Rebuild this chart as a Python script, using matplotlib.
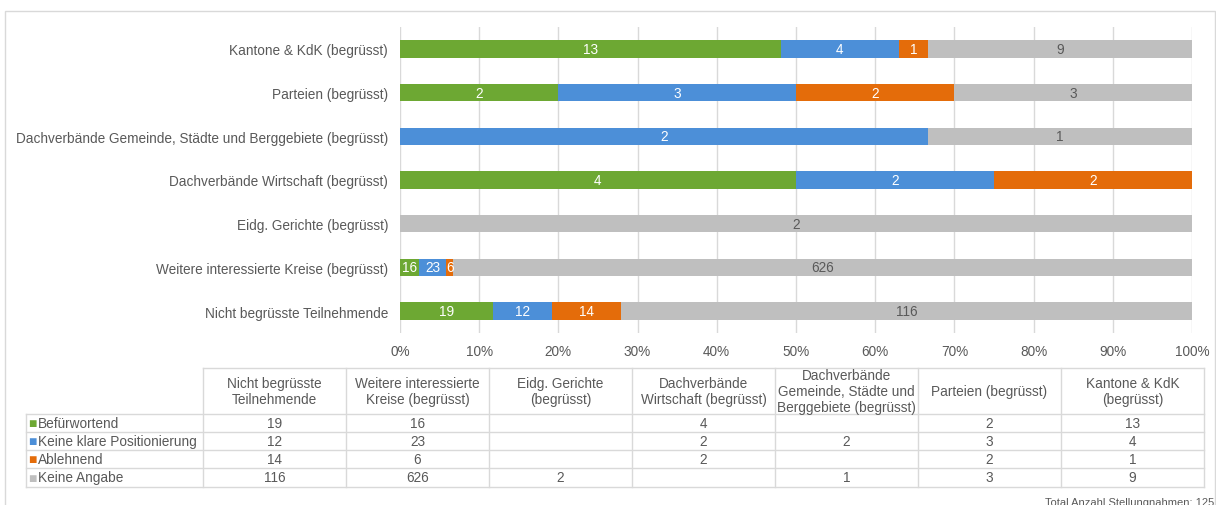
"""Stellungnahmen nach Teilnehmergruppe: 100%-Balken mit Datentabelle."""

import matplotlib.pyplot as plt
from matplotlib.patches import Rectangle
from matplotlib.lines import Line2D
import numpy as np

plt.rcParams["font.family"] = ["Liberation Sans", "DejaVu Sans"]

# order: bottom bar first (= table column order)
groups = [
    "Nicht begrüsste Teilnehmende",
    "Weitere interessierte Kreise (begrüsst)",
    "Eidg. Gerichte (begrüsst)",
    "Dachverbände Wirtschaft (begrüsst)",
    "Dachverbände Gemeinde, Städte und Berggebiete (begrüsst)",
    "Parteien (begrüsst)",
    "Kantone & KdK (begrüsst)",
]
table_headers = [
    "Nicht begrüsste\nTeilnehmende",
    "Weitere interessierte\nKreise (begrüsst)",
    "Eidg. Gerichte\n(begrüsst)",
    "Dachverbände\nWirtschaft (begrüsst)",
    "Dachverbände\nGemeinde, Städte und\nBerggebiete (begrüsst)",
    "Parteien (begrüsst)",
    "Kantone & KdK\n(begrüsst)",
]
series_names = ["Befürwortend", "Keine klare Positionierung", "Ablehnend", "Keine Angabe"]
befuerwortend = [19, 16, 0, 4, 0, 2, 13]
keine_klare = [12, 23, 0, 2, 2, 3, 4]
ablehnend = [14, 6, 0, 2, 0, 2, 1]
keine_angabe = [116, 626, 2, 0, 1, 3, 9]
footnote = "Total Anzahl Stellungnahmen: 125"

colors = ["#6DA833", "#4C8FD8", "#E46C0A", "#BFBFBF"]
label_colors = ["white", "white", "white", "#595959"]
text_gray = "#595959"
line_gray = "#D9D9D9"
fs = 9.8

W, H = 1216, 506
fig = plt.figure(figsize=(W / 100, H / 100), dpi=100)

# chart border
fig.patches.append(Rectangle((5 / W, -0.05), 1210 / W, 1.05 - 12 / H,
                             transform=fig.transFigure, fill=False,
                             edgecolor=line_gray, linewidth=1))

ax = fig.add_axes([400 / W, 1 - 334 / H, 792 / W, 306 / H])

data = np.array([befuerwortend, keine_klare, ablehnend, keine_angabe], dtype=float)
totals = data.sum(axis=0)
shares = data / totals * 100
y = np.arange(len(groups))
left = np.zeros(len(groups))
for i, name in enumerate(series_names):
    ax.barh(y, shares[i], left=left, height=0.4, color=colors[i], label=name, zorder=2)
    for j in range(len(groups)):
        if data[i, j] > 0:
            ax.text(left[j] + shares[i, j] / 2, y[j], f"{int(data[i, j])}",
                    ha="center", va="center", color=label_colors[i], fontsize=fs,
                    zorder=3)
    left += shares[i]

ax.set_xlim(0, 100)
ax.set_ylim(-0.5, len(groups) - 0.5)
ax.set_xticks(np.arange(0, 101, 10))
ax.set_xticklabels([f"{v}%" for v in range(0, 101, 10)])
ax.set_yticks(y)
ax.set_yticklabels(groups)
ax.tick_params(length=0, colors=text_gray, labelsize=fs)
ax.tick_params(axis="y", pad=8.5)
ax.tick_params(axis="x", pad=8)
ax.grid(axis="x", color=line_gray, linewidth=1, zorder=0)
for side in ["top", "right", "bottom", "left"]:
    ax.spines[side].set_visible(False)

# data table
tab = fig.add_axes([0, 0, 1, 1])
tab.set_xlim(0, W)
tab.set_ylim(H, 0)
tab.axis("off")

col_edges = [26, 203, 346, 489, 632, 775, 918, 1061, 1204]
row_edges = [369, 415, 433, 451, 469, 488]
cell_data = [befuerwortend, keine_klare, ablehnend, keine_angabe]

# horizontal lines
tab.add_line(Line2D([col_edges[1], col_edges[-1]], [row_edges[0]] * 2, color=line_gray, lw=1))
for r in row_edges[1:]:
    tab.add_line(Line2D([col_edges[0], col_edges[-1]], [r, r], color=line_gray, lw=1))
# vertical lines
tab.add_line(Line2D([col_edges[0]] * 2, [row_edges[1], row_edges[-1]], color=line_gray, lw=1))
for c in col_edges[1:]:
    tab.add_line(Line2D([c, c], [row_edges[0], row_edges[-1]], color=line_gray, lw=1))

for k, head in enumerate(table_headers):
    xc = (col_edges[k + 1] + col_edges[k + 2]) / 2
    tab.text(xc, (row_edges[0] + row_edges[1]) / 2, head, ha="center", va="center",
             color=text_gray, fontsize=fs, linespacing=1.2)

for r, name in enumerate(series_names):
    yc = (row_edges[r + 1] + row_edges[r + 2]) / 2
    tab.text(col_edges[0] + 2, yc + 0.5, "■", ha="left", va="center", color=colors[r],
             fontsize=10)
    tab.text(col_edges[0] + 12, yc, name, ha="left", va="center", color=text_gray,
             fontsize=fs)
    for k, val in enumerate(cell_data[r]):
        if val:
            xc = (col_edges[k + 1] + col_edges[k + 2]) / 2
            tab.text(xc, yc, str(val), ha="center", va="center", color=text_gray,
                     fontsize=fs)

tab.text(1214, 503, footnote, ha="right", va="center", color=text_gray, fontsize=8)

fig.savefig("out.png", dpi=100)
